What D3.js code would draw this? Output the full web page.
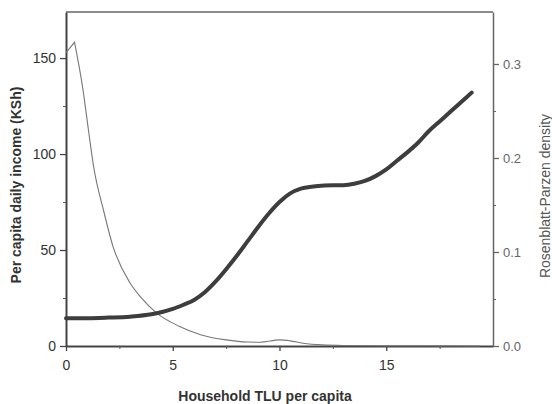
<!DOCTYPE html>
<html lang="en">
<head>
<meta charset="UTF-8">
<title>Income and TLU density</title>
<script src="https://cdn.jsdelivr.net/npm/d3@7"></script>
<style>
  body { margin: 0; background: #fff; }
  svg { display: block; font-family: "Liberation Sans", Arial, sans-serif; }
</style>
</head>
<body>
<script>
// household TLU per capita vs per capita daily income (KSh)
const incomeX = [0, 1, 2, 3, 4, 4.5, 5, 5.5, 6, 6.5, 7, 7.5, 8, 8.5, 9, 9.5, 10, 10.5, 11, 11.5, 12, 12.5, 13, 13.5, 14, 14.5, 15, 15.5, 16, 16.5, 17, 17.5, 18, 18.5, 19];
const incomeY = [14.5, 14.5, 14.8, 15.3, 16.5, 17.7, 19.3, 21.5, 24, 28, 33.5, 40, 47, 54.5, 62, 69, 75, 79.5, 82, 83, 83.5, 83.8, 83.8, 84.5, 86, 88.5, 92, 96.5, 101, 106, 112, 117, 122, 127, 132];

// Rosenblatt-Parzen density of TLU per capita
const densityX = [0, 0.4, 0.8, 1.05, 1.3, 1.75, 2.2, 3, 3.5, 4.25, 5.3, 6.3, 7.5, 8.5, 9.1, 10, 10.5, 11.1, 12, 13, 15, 17, 19.4];
const densityY = [0.312, 0.323, 0.272, 0.23, 0.19, 0.145, 0.106, 0.067, 0.052, 0.035, 0.021, 0.012, 0.0065, 0.0042, 0.004, 0.0065, 0.0055, 0.003, 0.0012, 0.0006, 0.0003, 0.0002, 0];

const xTicks = [0, 5, 10, 15];
const xMinor = [2.5, 7.5, 12.5, 17.5];
const leftTicks = [0, 50, 100, 150];
const leftMinor = [25, 75, 125];
const rightTicks = [0, 0.1, 0.2, 0.3];
const rightMinor = [0.05, 0.15, 0.25];

const width = 552, height = 404;
const plotLeft = 66, plotRight = 493, plotTop = 12, plotBottom = 346;

const svg = d3.select("body").append("svg")
    .attr("width", width)
    .attr("height", height);

const x = d3.scaleLinear().domain([0, 20]).range([plotLeft, plotRight]);
const yL = d3.scaleLinear().domain([0, 174]).range([plotBottom, plotTop]);
const yR = d3.scaleLinear().domain([0, 0.3553]).range([plotBottom, plotTop]);

// frame top
svg.append("line")
    .attr("x1", plotLeft).attr("x2", plotRight)
    .attr("y1", plotTop).attr("y2", plotTop)
    .attr("stroke", "#666").attr("stroke-width", 1.5);

function styleAxis(g, color, lw, fs) {
    g.select(".domain").attr("stroke", color).attr("stroke-width", lw);
    g.selectAll(".tick line").attr("stroke", color).attr("stroke-width", 1.3);
    g.selectAll(".tick text").attr("fill", color).style("font-size", fs + "px");
}

// bottom axis
const gx = svg.append("g").attr("transform", `translate(0,${plotBottom})`)
    .call(d3.axisBottom(x).tickValues(xTicks).tickFormat(d3.format("d")).tickSize(5).tickSizeOuter(0).tickPadding(9));
styleAxis(gx, "#444", 2, 14);
gx.selectAll(".tick text").attr("fill", "#333");
svg.append("g").attr("transform", `translate(0,${plotBottom})`)
    .call(d3.axisBottom(x).tickValues(xMinor).tickFormat("").tickSize(3).tickSizeOuter(0))
    .call(g => { g.select(".domain").remove(); g.selectAll("line").attr("stroke", "#555"); });

// left axis
const gl = svg.append("g").attr("transform", `translate(${plotLeft},0)`)
    .call(d3.axisLeft(yL).tickValues(leftTicks).tickFormat(d3.format("d")).tickSize(6).tickSizeOuter(0).tickPadding(4));
styleAxis(gl, "#444", 2, 14);
gl.selectAll(".tick text").attr("fill", "#333");
svg.append("g").attr("transform", `translate(${plotLeft},0)`)
    .call(d3.axisLeft(yL).tickValues(leftMinor).tickFormat("").tickSize(3).tickSizeOuter(0))
    .call(g => { g.select(".domain").remove(); g.selectAll("line").attr("stroke", "#555"); });

// right axis
const gr = svg.append("g").attr("transform", `translate(${plotRight},0)`)
    .call(d3.axisRight(yR).tickValues(rightTicks).tickFormat(d3.format(".1f")).tickSize(6).tickSizeOuter(0).tickPadding(4));
styleAxis(gr, "#666", 1.5, 13);
svg.append("g").attr("transform", `translate(${plotRight},0)`)
    .call(d3.axisRight(yR).tickValues(rightMinor).tickFormat("").tickSize(3).tickSizeOuter(0))
    .call(g => { g.select(".domain").remove(); g.selectAll("line").attr("stroke", "#666"); });

// density curve: straight rise to the sharp peak, smooth after it
const density = densityX.map((d, i) => [d, densityY[i]]);
const lineR = d3.line().x(d => x(d[0])).y(d => yR(d[1]));
const riseD = lineR.curve(d3.curveLinear)(density.slice(0, 2));
const fallD = lineR.curve(d3.curveMonotoneX)(density.slice(1)).replace(/^M/, "L");
svg.append("path")
    .attr("fill", "none")
    .attr("stroke", "#777")
    .attr("stroke-width", 1.1)
    .attr("stroke-linejoin", "miter")
    .attr("d", riseD + fallD);

// income curve
const income = incomeX.map((d, i) => [d, incomeY[i]]);
svg.append("path")
    .datum(income)
    .attr("fill", "none")
    .attr("stroke", "#3d3d3d")
    .attr("stroke-width", 4)
    .attr("stroke-linecap", "round")
    .attr("d", d3.line().x(d => x(d[0])).y(d => yL(d[1])).curve(d3.curveMonotoneX));

// titles
svg.append("text")
    .attr("x", 265).attr("y", 401)
    .attr("text-anchor", "middle")
    .attr("font-weight", "bold")
    .attr("fill", "#333")
    .style("font-size", "14px")
    .text("Household TLU per capita");

svg.append("text")
    .attr("transform", "translate(21,185) rotate(-90)")
    .attr("text-anchor", "middle")
    .attr("font-weight", "bold")
    .attr("fill", "#333")
    .style("font-size", "14px")
    .text("Per capita daily income (KSh)");

svg.append("text")
    .attr("transform", "translate(550,196) rotate(-90)")
    .attr("text-anchor", "middle")
    .attr("fill", "#555")
    .style("font-size", "14px")
    .text("Rosenblatt-Parzen density");
</script>
</body>
</html>
